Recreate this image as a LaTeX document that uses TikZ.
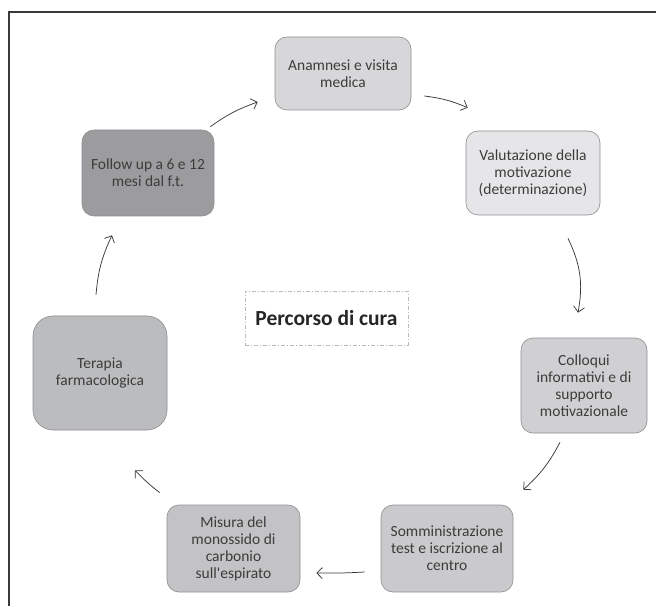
\documentclass[tikz,border=0pt]{standalone}
\usepackage{fontspec}
\setmainfont{Carlito}
\usepackage{xcolor}
\usepackage{tikz}
\usetikzlibrary{arrows.meta, calc}

\definecolor{framegray}{HTML}{3A3A3A}
\definecolor{boxline}{HTML}{8E8E90}
\definecolor{txtgray}{HTML}{3C3C3C}
\definecolor{fillanam}{HTML}{D7D7D9}
\definecolor{fillvalu}{HTML}{E6E6E8}
\definecolor{fillcoll}{HTML}{D0D0D2}
\definecolor{fillsomm}{HTML}{CACACC}
\definecolor{fillmisu}{HTML}{C3C3C5}
\definecolor{fillfarm}{HTML}{BBBCBE}
\definecolor{fillfoll}{HTML}{9C9C9E}

\begin{document}
\begin{tikzpicture}[x=1pt, y=1pt,
  stage/.style={draw=boxline, line width=0.6pt, rounded corners=12pt, align=center,
    text=txtgray, font=\fontsize{15.5}{17}\selectfont, inner sep=0pt},
  flow/.style={-{Straight Barb[length=5.5pt,width=11pt]}, line width=0.75pt, draw=framegray}]
  \useasboundingbox (0,0) rectangle (656,606);
  % frame of the figure
  \draw[line width=1.5pt, framegray] (656,594) -- (9,594) -- (9,0);

  \node[stage, fill=fillanam, minimum width=136pt, minimum height=73pt] (anamnesi) at (343,532.5)
    {Anamnesi e visita\\medica};
  \node[stage, fill=fillvalu, minimum width=134pt, minimum height=84pt] (valutazione) at (533,433)
    {Valutazione della\\motivazione\\(determinazione)};
  \node[stage, fill=fillcoll, minimum width=126pt, minimum height=95pt] (colloqui) at (584,220.5)
    {Colloqui\\informativi e di\\supporto\\motivazionale};
  \node[stage, fill=fillsomm, minimum width=132pt, minimum height=87pt] (somministrazione) at (447,57.5)
    {Somministrazione\\test e iscrizione al\\centro};
  \node[stage, fill=fillmisu, minimum width=133pt, minimum height=87pt] (misura) at (233.5,57.5)
    {Misura del\\monossido di\\carbonio\\sull\textquotesingle espirato};
  \node[stage, fill=fillfarm, rounded corners=20pt, minimum width=134pt, minimum height=114pt] (terapia) at (100,233)
    {Terapia\\farmacologica};
  \node[stage, fill=fillfoll, minimum width=132pt, minimum height=86pt] (follow) at (148,433)
    {Follow up a 6 e 12\\mesi dal f.t.};

  \node[draw=gray!55, dash pattern=on 4pt off 2pt on 1pt off 2pt, minimum width=163pt, minimum height=54pt,
    font=\bfseries\fontsize{21.5}{24}\selectfont, text=black!85] (titolo) at (326.5,288) {Percorso di cura};

  % cycle
  \draw[flow] ([shift={(-4,3)}]follow.north east) to[bend left=8] ([shift={(-17,-28.5)}]anamnesi.west);
  \draw[flow] ([shift={(13,-22.5)}]anamnesi.east) to[bend left=8] ([shift={(2,23)}]valutazione.north west);
  \draw[flow] ([shift={(35,-23)}]valutazione.south) to[bend left=18] ([shift={(-6,25)}]colloqui.north);
  \draw[flow] ([shift={(-24,-9)}]colloqui.south) to[bend left=10] ([shift={(10,15)}]somministrazione.north east);
  \draw[flow] ([shift={(-16,-23.5)}]somministrazione.west) to[bend left=2] ([shift={(16,-24.5)}]misura.east);
  \draw[flow] ([shift={(-7,12)}]misura.north west) to[bend left=4] ([shift={(35,-40)}]terapia.south);
  \draw[flow] ([shift={(-4,21)}]terapia.north) to[bend left=10] ([shift={(-36,-19)}]follow.south);
\end{tikzpicture}
\end{document}
